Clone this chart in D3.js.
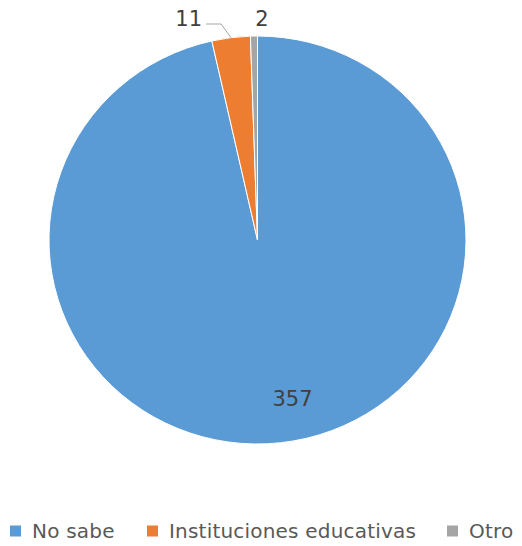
<!DOCTYPE html>
<html><head><meta charset="utf-8">
<script src="https://cdn.jsdelivr.net/npm/d3@7"></script>
<style>body{margin:0;background:#fff}svg{display:block}</style>
</head><body><svg id="c" width="522" height="546"></svg>
<script>
const categories = ["No sabe", "Instituciones educativas", "Otro"];
const values = [357, 11, 2];
const colors = ["#5B9BD5", "#ED7D31", "#A5A5A5"];

const cx = 257.5, cy = 240, R = 208.5, sy = 204 / 208.5;
const font = "'DejaVu Sans', sans-serif";
const svg = d3.select("#c");
const g = svg.append("g").attr("transform", `translate(${cx},${cy})`);
const pg = g.append("g").attr("transform", `scale(1,${sy})`);

const data = categories.map((c, i) => ({ cat: c, val: values[i], col: colors[i] }));
const pie = d3.pie().value(d => d.val).sort(null);
const arcs = pie(data);
const arc = d3.arc().innerRadius(0).outerRadius(R);

pg.selectAll("path").data(arcs).join("path")
  .attr("d", arc).attr("fill", d => d.data.col)
  .attr("stroke", "#fff").attr("stroke-width", 1);

// Big slice label inside
const inArc = d3.arc().innerRadius(163).outerRadius(163);
const c0 = inArc.centroid(arcs[0]);
g.append("text").attr("x", c0[0] + 17).attr("y", c0[1] * sy)
  .attr("dy", "0.36em").attr("text-anchor", "middle")
  .attr("font-family", font).attr("font-size", 21).attr("fill", "#404040")
  .text(values[0]);

// Outside labels
const edge = d3.arc().innerRadius(R).outerRadius(R);
const e1 = edge.centroid(arcs[1]);
const ly = 24 - cy;
g.append("polyline")
  .attr("points", `${e1[0]},${e1[1] * sy} ${e1[0] - 10},${ly} ${e1[0] - 25},${ly}`)
  .attr("fill", "none").attr("stroke", "#A6A6A6").attr("stroke-width", 1);
g.append("text").attr("x", e1[0] - 29).attr("y", ly - 6).attr("dy", "0.36em")
  .attr("text-anchor", "end").attr("font-family", font).attr("font-size", 21)
  .attr("fill", "#404040").text(values[1]);
const e2 = edge.centroid(arcs[2]);
g.append("text").attr("x", e2[0] + 8).attr("y", ly - 6).attr("dy", "0.36em")
  .attr("text-anchor", "middle").attr("font-family", font).attr("font-size", 21)
  .attr("fill", "#404040").text(values[2]);

// Legend
const legX = [10, 147, 447];
const legY = 531;
const leg = svg.append("g");
categories.forEach((c, i) => {
  leg.append("rect").attr("x", legX[i]).attr("y", legY - 5.5).attr("width", 11).attr("height", 11)
    .attr("fill", colors[i]);
  leg.append("text").attr("x", legX[i] + 22).attr("y", legY).attr("dy", "0.36em")
    .attr("font-family", font).attr("font-size", 20).attr("letter-spacing", 0.2)
    .attr("fill", "#595959").text(c);
});
</script></body></html>
